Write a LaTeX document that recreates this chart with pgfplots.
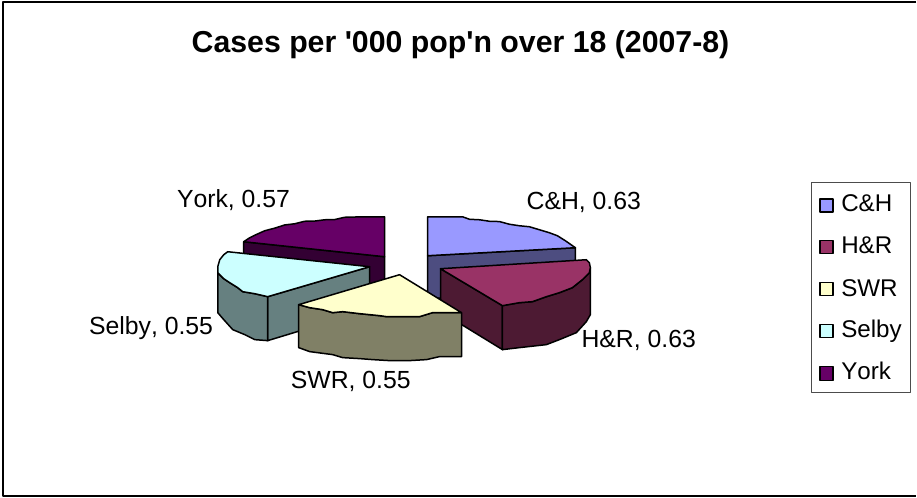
\documentclass[border=0pt]{standalone}
\usepackage{pgfplots}
\pgfplotsset{compat=1.18}
\usepackage{fontspec}
\setmainfont[Kerning=Off]{Liberation Sans}
\definecolor{chT}{HTML}{9999FF}\definecolor{chS}{HTML}{4D4D80}
\definecolor{hrT}{HTML}{993366}\definecolor{hrS}{HTML}{4D1A33}
\definecolor{swT}{HTML}{FFFFCC}\definecolor{swS}{HTML}{808066}
\definecolor{seT}{HTML}{CCFFFF}\definecolor{seS}{HTML}{668080}
\definecolor{yoT}{HTML}{660066}\definecolor{yoS}{HTML}{330033}
\tikzset{lbl/.style={font=\fontsize{24.8}{28}\selectfont,anchor=base west,inner sep=0pt},
         leg/.style={font=\fontsize{24.2}{28}\selectfont,anchor=base west,inner sep=0pt}}
\begin{document}
\begin{tikzpicture}
\begin{axis}[
  width=917pt,height=498pt,scale only axis,
  xmin=0,xmax=917,ymin=0,ymax=498,y dir=reverse,
  hide axis,clip=false,
  every axis plot/.append style={line width=1.5pt,line join=round},
]
% page extent
\addplot[draw=none,fill=white] coordinates {(0,0)(917,0)(917,498)(0,498)} --cycle;
% frame
\addplot[draw=black,line width=2pt] coordinates {(917,2.5)(3.5,2.5)(3.5,496.5)(917,496.5)};
% legend box
\addplot[draw=black!70,line width=0.9pt,fill=white] coordinates {(812,183)(911,183)(911,393)(812,393)} --cycle;
% sides
\addplot[fill=yoS,draw=black] coordinates {(244,242)(385,257)(385,300)(244,285)} --cycle;
\addplot[fill=chS,draw=black] coordinates {(428,256)(576,248)(576,291)(428,299)} --cycle;
\addplot[fill=hrS,draw=black] coordinates {(441,269)(503,306)(503,350)(441,312)} --cycle;
\addplot[fill=hrS,draw=black] coordinates {(503,306)(520,303)(533,302)(547,297)(560,293)(573,288)(583,280)(590,273)(591,268)(591,315)(587,322)(577,333)(560,340)(547,345)(520,348)(503,350)} --cycle;
\addplot[fill=seS,draw=black] coordinates {(268,297)(370,267)(370,310)(268,341)} --cycle;
\addplot[fill=seS,draw=black] coordinates {(218,273)(224,279)(230,283)(238,288)(243,292)(255,294)(268,297)(268,341)(255,340)(245,335)(233,330)(224,320)(218,313)} --cycle;
\addplot[fill=swS,draw=black] coordinates {(299,305)(310,308)(323,310)(333,313)(343,312)(360,314)(380,316)(387,317)(407,317)(420,317)(433,313)(447,313)(462,313)(462,357)(440,357)(427,360)(410,361)(390,361)(373,360)(360,359)(343,358)(333,355)(310,352)(299,348)} --cycle;
% tops
\addplot[fill=chT,draw=black] coordinates {(428,217)(463,217)(470,219.5)(480,220)(490,221.5)(500,221.8)(510,224.5)(520,226)(530,227)(540,230)(550,233)(558,236)(566,241)(576,248)(428,256)} --cycle;
\addplot[fill=hrT,draw=black] coordinates {(441,269)(587,260)(590,263)(591,268)(590,273)(583,280)(573,288)(560,293)(547,297)(533,302)(520,303)(503,306)} --cycle;
\addplot[fill=swT,draw=black] coordinates {(400,275)(462,313)(447,313)(433,313)(420,317)(407,317)(387,317)(380,316)(360,314)(343,312)(333,313)(323,310)(310,308)(299,305)} --cycle;
\addplot[fill=seT,draw=black] coordinates {(370,267)(228,252)(224,255)(220,260)(218,267)(218,273)(224,279)(230,283)(238,288)(243,292)(255,294)(268,297)} --cycle;
\addplot[fill=yoT,draw=black] coordinates {(385,257)(385,217)(365,217)(345,217.5)(335,219.8)(325,220)(315,221.3)(305,221.5)(295,224)(285,225.2)(275,228.4)(265,231)(255,235.5)(250,238)(244,242)} --cycle;
% legend swatches
\addplot[fill=chT,draw=black] coordinates {(821,199)(834,199)(834,212)(821,212)} --cycle;
\addplot[fill=hrT,draw=black] coordinates {(821,241)(834,241)(834,254)(821,254)} --cycle;
\addplot[fill=swT,draw=black] coordinates {(821,283)(834,283)(834,296)(821,296)} --cycle;
\addplot[fill=seT,draw=black] coordinates {(821,325)(834,325)(834,338)(821,338)} --cycle;
\addplot[fill=yoT,draw=black] coordinates {(821,367)(834,367)(834,381)(821,381)} --cycle;
% text
\node[font=\bfseries\fontsize{30.3}{36}\selectfont,inner sep=0pt,anchor=base] at (axis cs:461,53) {Cases per \textquotesingle 000 pop\textquotesingle n over 18 (2007-8)};
\node[lbl] at (axis cs:527,210) {C\&H, 0.63};
\node[lbl] at (axis cs:582,348) {H\&R, 0.63};
\node[lbl] at (axis cs:291,388.5) {SWR, 0.55};
\node[lbl] at (axis cs:89,335) {Selby, 0.55};
\node[lbl] at (axis cs:177,208) {York, 0.57};
\node[leg] at (axis cs:842,212) {C\&H};
\node[leg] at (axis cs:842,254) {H\&R};
\node[leg] at (axis cs:842,296.5) {SWR};
\node[leg] at (axis cs:842,338) {Selby};
\node[leg] at (axis cs:842,380) {York};
\end{axis}
\end{tikzpicture}
\end{document}
